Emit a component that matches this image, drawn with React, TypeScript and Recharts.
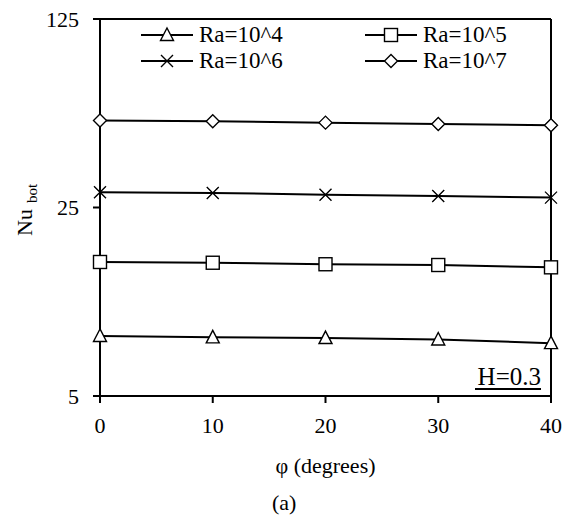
import { Label, Line, LineChart, ReferenceLine, XAxis, YAxis } from "recharts";

const angles = [0, 10, 20, 30, 40];
const ra4 = [8.35, 8.25, 8.2, 8.1, 7.85];
const ra5 = [15.7, 15.6, 15.4, 15.3, 15.0];
const ra6 = [28.5, 28.3, 27.9, 27.6, 27.2];
const ra7 = [52.5, 52.2, 51.6, 51.0, 50.5];
const xTicks = [0, 10, 20, 30, 40];
const yTicks = [5, 25, 125];

const seriesNames = ["Ra=10^4", "Ra=10^5", "Ra=10^6", "Ra=10^7"];
const seriesKeys = ["ra4", "ra5", "ra6", "ra7"];
const markers = ["triangle", "square", "cross", "diamond"];

const data = angles.map((a, i) => ({ phi: a, ra4: ra4[i], ra5: ra5[i], ra6: ra6[i], ra7: ra7[i] }));

const FONT = "'Liberation Serif', 'Times New Roman', serif";

function Marker({ kind, cx, cy }: { kind: string; cx: number; cy: number }) {
  const s = { fill: "#fff", stroke: "#000", strokeWidth: 1.4 };
  if (kind === "triangle") {
    return <path d={`M${cx},${cy - 7} L${cx + 6.5},${cy + 5.5} L${cx - 6.5},${cy + 5.5} Z`} {...s} />;
  }
  if (kind === "square") {
    return <rect x={cx - 6.5} y={cy - 6.5} width={13} height={13} {...s} />;
  }
  if (kind === "diamond") {
    return <path d={`M${cx},${cy - 6.5} L${cx + 6.5},${cy} L${cx},${cy + 6.5} L${cx - 6.5},${cy} Z`} {...s} />;
  }
  return (
    <path d={`M${cx - 6},${cy - 6} L${cx + 6},${cy + 6} M${cx + 6},${cy - 6} L${cx - 6},${cy + 6}`} stroke="#000" strokeWidth={1.4} fill="none" />
  );
}

// legend drawn as an overlay so it doesn't shrink the plot area
function LegendBox() {
  return (
    <svg width={575} height={80} style={{ position: "absolute", left: 0, top: 0 }}>
      {seriesNames.map((name, i) => {
        const col = i % 2;
        const row = Math.floor(i / 2);
        const x0 = col === 0 ? 141 : 365;
        const y = row === 0 ? 35 : 61;
        return (
          <g key={name}>
            <line x1={x0} y1={y} x2={x0 + 52} y2={y} stroke="#000" strokeWidth={2} />
            <Marker kind={markers[i]} cx={x0 + 26} cy={y} />
            <text x={x0 + 58} y={y + 7} fontFamily={FONT} fontSize={23} fill="#000">
              {name}
            </text>
          </g>
        );
      })}
    </svg>
  );
}

export default function App() {
  return (
    <div style={{ position: "absolute", left: 0, top: 0, width: 575, height: 515, background: "#fff" }}>
      <LineChart width={575} height={515} data={data} margin={{ top: 19, right: 24, bottom: 0, left: 0 }}>
        <XAxis
          dataKey="phi"
          type="number"
          domain={[0, 40]}
          ticks={xTicks}
          height={119}
          axisLine={{ stroke: "#000", strokeWidth: 2 }}
          tickLine={{ stroke: "#000", strokeWidth: 2 }}
          tickSize={7}
          tickMargin={14}
          tick={{ fill: "#000", fontFamily: FONT, fontSize: 22 }}
        >
          <Label
            content={({ viewBox }: any) => (
              <g fontFamily={FONT} fill="#000">
                <text x={viewBox.x + viewBox.width / 2} y={viewBox.y + 77} textAnchor="middle" fontSize={22}>
                  φ (degrees)
                </text>
                <text x={272} y={viewBox.y + 114} fontSize={22}>
                  (a)
                </text>
              </g>
            )}
          />
        </XAxis>
        <YAxis
          scale="log"
          domain={[5, 125]}
          ticks={yTicks}
          allowDataOverflow
          width={100}
          axisLine={{ stroke: "#000", strokeWidth: 2 }}
          tickLine={{ stroke: "#000", strokeWidth: 2 }}
          tickSize={7}
          tickMargin={14}
          tick={{ fill: "#000", fontFamily: FONT, fontSize: 22 }}
        >
          <Label
            content={() => (
              <text transform="rotate(-90, 32, 236)" x={32} y={236} fontFamily={FONT} fontSize={22} fill="#000">
                Nu
                <tspan dx={6} dy={5} fontSize={15}>
                  bot
                </tspan>
              </text>
            )}
          />
        </YAxis>
        <ReferenceLine y={125} stroke="#000" strokeWidth={2} />
        <ReferenceLine
          x={40}
          stroke="#000"
          strokeWidth={2}
          label={({ viewBox }: any) => (
            <g>
              <text x={viewBox.x - 10} y={viewBox.y + viewBox.height - 11} textAnchor="end" fontFamily={FONT} fontSize={25} fill="#000">
                H=0.3
              </text>
              <line x1={viewBox.x - 76} x2={viewBox.x - 10} y1={viewBox.y + viewBox.height - 7} y2={viewBox.y + viewBox.height - 7} stroke="#000" strokeWidth={2} />
            </g>
          )}
        />
        {seriesKeys.map((k, i) => (
          <Line
            key={k}
            dataKey={k}
            name={seriesNames[i]}
            stroke="#000"
            strokeWidth={2}
            isAnimationActive={false}
            dot={(p: any) => <Marker key={`${k}-${p.index}`} kind={markers[i]} cx={p.cx} cy={p.cy} />}
          />
        ))}
      </LineChart>
      <LegendBox />
    </div>
  );
}
